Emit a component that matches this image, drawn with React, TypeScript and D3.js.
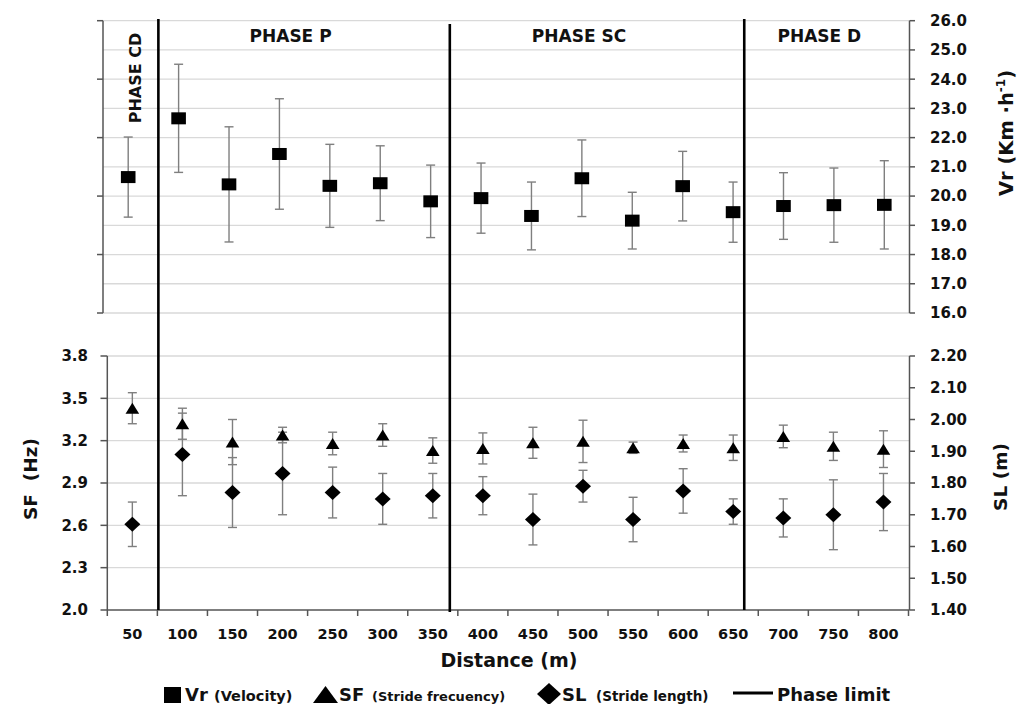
import React, { useEffect, useRef } from "react";
import * as d3 from "d3";

const distances = [50, 100, 150, 200, 250, 300, 350, 400, 450, 500, 550, 600, 650, 700, 750, 800];
const vrMean = [20.65, 22.66, 20.4, 21.44, 20.35, 20.44, 19.82, 19.93, 19.32, 20.61, 19.16, 20.34, 19.45, 19.66, 19.69, 19.7];
const vrSD = [1.37, 1.85, 1.97, 1.89, 1.42, 1.28, 1.24, 1.2, 1.16, 1.31, 0.97, 1.19, 1.03, 1.14, 1.27, 1.51];
const sfMean = [3.43, 3.32, 3.19, 3.24, 3.18, 3.24, 3.13, 3.145, 3.185, 3.195, 3.15, 3.18, 3.15, 3.23, 3.16, 3.14];
const sfSD = [0.11, 0.11, 0.16, 0.055, 0.08, 0.08, 0.09, 0.11, 0.11, 0.15, 0.04, 0.06, 0.09, 0.08, 0.1, 0.13];
const slMean = [1.67, 1.89, 1.77, 1.83, 1.77, 1.75, 1.76, 1.76, 1.685, 1.79, 1.685, 1.775, 1.71, 1.69, 1.7, 1.74];
const slSD = [0.07, 0.13, 0.11, 0.13, 0.08, 0.08, 0.07, 0.06, 0.08, 0.05, 0.07, 0.07, 0.04, 0.06, 0.11, 0.09];

const phaseLimits = [76, 367, 661];
const phaseNames = ["PHASE CD", "PHASE P", "PHASE SC", "PHASE D"];
const phaseLabelAt = [50, 208, 496, 736];

const vrTicks = [16, 17, 18, 19, 20, 21, 22, 23, 24, 25, 26];
const vrLeftTicks = [16, 18, 20, 22, 24, 26];
const sfTicks = [2.0, 2.3, 2.6, 2.9, 3.2, 3.5, 3.8];
const slTicks = [1.4, 1.5, 1.6, 1.7, 1.8, 1.9, 2.0, 2.1, 2.2];

const FONT = "'DejaVu Sans', Verdana, sans-serif";

export default function App() {
  const ref = useRef<SVGSVGElement>(null);

  useEffect(() => {
    const svg = d3.select(ref.current);
    svg.selectAll("*").remove();
    const cats = distances.map(String);

    const xTop = d3.scaleBand<string>().domain(cats).range([103, 909.5]);
    const xBot = d3.scaleBand<string>().domain(cats).range([107.3, 908.5]);
    const bw = xBot.bandwidth();
    const xDist = d3.scaleLinear().domain([50, 800]).range([107.3 + bw / 2, 107.3 + bw / 2 + 15 * bw]);

    const yVr = d3.scaleLinear().domain([16, 26]).range([313, 20.7]);
    const ySF = d3.scaleLinear().domain([2.0, 3.8]).range([610, 356]);
    const ySL = d3.scaleLinear().domain([1.4, 2.2]).range([610, 356]);

    const axisColor = "#555";
    const gridColor = "#d9d9d9";
    const errColor = "#7f7f7f";
    const txt = "#111";

    // grids
    const g = svg.append("g");
    g.selectAll(".gt").data(vrTicks).join("line")
      .attr("x1", 103).attr("x2", 909.5)
      .attr("y1", (d) => yVr(d)).attr("y2", (d) => yVr(d))
      .attr("stroke", gridColor).attr("stroke-width", 1.3);
    g.selectAll(".gb").data(sfTicks.slice(1)).join("line")
      .attr("x1", 107.3).attr("x2", 909.5)
      .attr("y1", (d) => ySF(d)).attr("y2", (d) => ySF(d))
      .attr("stroke", gridColor).attr("stroke-width", 1.3);

    // axes
    const ax = svg.append("g").attr("stroke", axisColor).attr("stroke-width", 1.5);
    ax.append("line").attr("x1", 103).attr("x2", 103).attr("y1", yVr(26)).attr("y2", yVr(16));
    ax.selectAll(".tl").data(vrLeftTicks).join("line")
      .attr("x1", 97).attr("x2", 103).attr("y1", (d) => yVr(d)).attr("y2", (d) => yVr(d));
    ax.append("line").attr("x1", 909.5).attr("x2", 909.5).attr("y1", yVr(26)).attr("y2", yVr(16));
    ax.selectAll(".tr").data(vrTicks).join("line")
      .attr("x1", 909.5).attr("x2", 915).attr("y1", (d) => yVr(d)).attr("y2", (d) => yVr(d));
    ax.append("line").attr("x1", 107.3).attr("x2", 107.3).attr("y1", ySF(3.8)).attr("y2", ySF(2.0));
    ax.selectAll(".bl").data(sfTicks).join("line")
      .attr("x1", 100.5).attr("x2", 107.3).attr("y1", (d) => ySF(d)).attr("y2", (d) => ySF(d));
    ax.append("line").attr("x1", 909.5).attr("x2", 909.5).attr("y1", ySL(2.2)).attr("y2", ySL(1.4));
    ax.selectAll(".br").data(slTicks).join("line")
      .attr("x1", 909.5).attr("x2", 915).attr("y1", (d) => ySL(d)).attr("y2", (d) => ySL(d));
    ax.append("line").attr("x1", 107.3).attr("x2", 909.5).attr("y1", 610).attr("y2", 610);
    const bounds = cats.map((c) => xBot(c) as number).concat([908.5]);
    ax.selectAll(".xt").data(bounds).join("line")
      .attr("x1", (d) => d).attr("x2", (d) => d).attr("y1", 610).attr("y2", 616);

    // tick labels
    const tl = svg.append("g").attr("font-family", FONT).attr("font-weight", "bold").attr("fill", txt);
    tl.selectAll(".lr").data(vrTicks).join("text")
      .attr("x", 930).attr("y", (d) => yVr(d)).attr("dy", "0.36em").attr("font-size", 15)
      .text((d) => d3.format(".1f")(d));
    tl.selectAll(".lbr").data(slTicks).join("text")
      .attr("x", 930).attr("y", (d) => ySL(d)).attr("dy", "0.36em").attr("font-size", 15)
      .text((d) => d3.format(".2f")(d));
    tl.selectAll(".lbl").data(sfTicks).join("text")
      .attr("x", 88).attr("y", (d) => ySF(d)).attr("dy", "0.36em").attr("font-size", 15)
      .attr("text-anchor", "end")
      .text((d) => d3.format(".1f")(d));
    tl.selectAll(".lx").data(cats).join("text")
      .attr("x", (d) => (xBot(d) as number) + bw / 2).attr("y", 639).attr("font-size", 14.5)
      .attr("text-anchor", "middle").text((d) => d);

    // error bars
    const eb = svg.append("g").attr("stroke", errColor).attr("stroke-width", 1.4);
    const drawErr = (xs: (i: number) => number, y: d3.ScaleLinear<number, number>, m: number[], s: number[]) => {
      m.forEach((v, i) => {
        const x = xs(i);
        const y1 = y(v + s[i]);
        const y2 = y(v - s[i]);
        eb.append("line").attr("x1", x).attr("x2", x).attr("y1", y1).attr("y2", y2);
        eb.append("line").attr("x1", x - 4.5).attr("x2", x + 4.5).attr("y1", y1).attr("y2", y1);
        eb.append("line").attr("x1", x - 4.5).attr("x2", x + 4.5).attr("y1", y2).attr("y2", y2);
      });
    };
    const xt = (i: number) => (xTop(cats[i]) as number) + xTop.bandwidth() / 2;
    const xb = (i: number) => (xBot(cats[i]) as number) + bw / 2;
    drawErr(xt, yVr, vrMean, vrSD);
    drawErr(xb, ySF, sfMean, sfSD);
    drawErr(xb, ySL, slMean, slSD);

    // markers
    const mk = svg.append("g").attr("fill", "#000");
    mk.selectAll(".sq").data(vrMean).join("rect")
      .attr("x", (d, i) => xt(i) - 7.3).attr("y", (d) => yVr(d) - 6)
      .attr("width", 14.6).attr("height", 12);
    mk.selectAll(".tri").data(sfMean).join("path")
      .attr("d", (d, i) => {
        const x = xb(i), y = ySF(d);
        return `M${x},${y - 5.5}L${x + 6.8},${y + 5.5}L${x - 6.8},${y + 5.5}Z`;
      });
    mk.selectAll(".dia").data(slMean).join("path")
      .attr("d", (d, i) => {
        const x = xb(i), y = ySL(d);
        return `M${x},${y - 7.5}L${x + 8},${y}L${x},${y + 7.5}L${x - 8},${y}Z`;
      });

    // phase lines
    const pl = svg.append("g").attr("stroke", "#000").attr("stroke-width", 2.6);
    phaseLimits.forEach((d, i) => {
      pl.append("line").attr("x1", xDist(d)).attr("x2", xDist(d))
        .attr("y1", i === 1 ? 24 : 19).attr("y2", i === 1 ? 612 : 610);
    });

    // phase labels
    const ph = svg.append("g").attr("font-family", FONT).attr("font-weight", "bold").attr("fill", txt);
    phaseNames.forEach((n, i) => {
      const x = i === 0 ? xDist(phaseLabelAt[i]) + 8.5 : xDist(phaseLabelAt[i]);
      if (i === 0) {
        ph.append("text").attr("transform", `translate(${x},78) rotate(-90)`)
          .attr("text-anchor", "middle").attr("font-size", 16).text(n);
      } else {
        ph.append("text").attr("x", x).attr("y", 42).attr("text-anchor", "middle")
          .attr("font-size", 17).text(n);
      }
    });

    // axis titles
    const at = svg.append("g").attr("font-family", FONT).attr("font-weight", "bold").attr("fill", txt);
    const vr = at.append("text").attr("transform", "translate(1013,133) rotate(-90)")
      .attr("text-anchor", "middle").attr("font-size", 19.5);
    vr.append("tspan").text("Vr (Km ·h");
    vr.append("tspan").attr("font-size", 12).attr("dy", -8).text("-1");
    vr.append("tspan").attr("dy", 8).text(")");
    at.append("text").attr("transform", "translate(1007,477) rotate(-90)")
      .attr("text-anchor", "middle").attr("font-size", 18.5).text("SL (m)");
    at.append("text").attr("transform", "translate(37,479) rotate(-90)")
      .attr("text-anchor", "middle").attr("font-size", 18.5)
      .style("white-space", "pre").text("SF  (Hz)");
    at.append("text").attr("x", 509).attr("y", 667).attr("text-anchor", "middle")
      .attr("font-size", 19).text("Distance (m)");

    // legend
    const lg = svg.append("g").attr("font-family", FONT).attr("font-weight", "bold").attr("fill", txt);
    const by = 701;
    lg.append("rect").attr("x", 164).attr("y", 687).attr("width", 17).attr("height", 16).attr("fill", "#000");
    lg.append("text").attr("x", 185).attr("y", by).attr("font-size", 18).text("Vr");
    lg.append("text").attr("x", 214).attr("y", by).attr("font-size", 14.5).text("(Velocity)");
    lg.append("path").attr("d", "M325.5,686L338,703L313,703Z").attr("fill", "#000");
    lg.append("text").attr("x", 339).attr("y", by).attr("font-size", 18).text("SF");
    lg.append("text").attr("x", 372).attr("y", by).attr("font-size", 13).text("(Stride frecuency)");
    lg.append("path").attr("d", "M549,683L561,694L549,705L537,694Z").attr("fill", "#000");
    lg.append("text").attr("x", 562).attr("y", by).attr("font-size", 18).text("SL");
    lg.append("text").attr("x", 596).attr("y", by).attr("font-size", 13.5).text("(Stride length)");
    lg.append("line").attr("x1", 733).attr("x2", 773).attr("y1", 693).attr("y2", 693)
      .attr("stroke", "#000").attr("stroke-width", 3);
    lg.append("text").attr("x", 777).attr("y", by).attr("font-size", 18).text("Phase limit");
  }, []);

  return (
    <svg
      ref={ref}
      width={1030}
      height={704}
      style={{ position: "absolute", left: 0, top: 0, background: "#fff" }}
    />
  );
}
